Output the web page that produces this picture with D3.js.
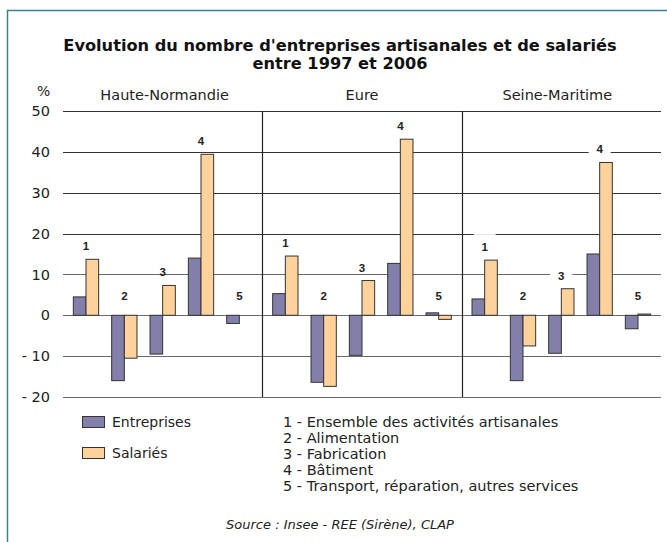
<!DOCTYPE html>
<html>
<head>
<meta charset="utf-8">
<style>
  body { margin: 0; background: #fff; }
  svg { display: block; font-family: "DejaVu Sans", Verdana, sans-serif; }
</style>
</head>
<body>
<div id="chart"></div>
<script src="https://cdnjs.cloudflare.com/ajax/libs/d3/7.8.5/d3.min.js"></script>
<script>
// données
var regions = ["Haute-Normandie", "Eure", "Seine-Maritime"];
var categories = ["1", "2", "3", "4", "5"];
var entreprises = [
  [4.5, -16.0, -9.5, 14.0, -2.0],
  [5.3, -16.4, -9.8, 12.7, 0.6],
  [4.0, -16.0, -9.3, 15.0, -3.3]
];
var salaries = [
  [13.7, -10.5, 7.3, 39.4, 0],
  [14.5, -17.4, 8.5, 43.1, -1.0],
  [13.5, -7.5, 6.5, 37.4, 0.3]
];
var yTicks = [50, 40, 30, 20, 10, 0, -10, -20];
var seriesNames = ["Entreprises", "Salariés"];
var categoryNames = [
  "1 - Ensemble des activités artisanales",
  "2 - Alimentation",
  "3 - Fabrication",
  "4 - Bâtiment",
  "5 - Transport, réparation, autres services"
];

var W = 667, H = 542;
var colE = "#8280aa", colS = "#ffd29c";
var plotLeft = 63, plotRight = 661;

var svg = d3.select("#chart").append("svg")
  .attr("width", W).attr("height", H);

// cadre
svg.append("path")
  .attr("d", "M7.5," + H + "V10.5H" + W)
  .attr("fill", "none").attr("stroke", "#3f7f96").attr("stroke-width", 1.5);

// titre
svg.append("text").attr("x", 340).attr("y", 51)
  .attr("text-anchor", "middle").attr("font-weight", "bold").attr("font-size", 16.2)
  .attr("fill", "#111")
  .text("Evolution du nombre d'entreprises artisanales et de salariés");
svg.append("text").attr("x", 340).attr("y", 69)
  .attr("text-anchor", "middle").attr("font-weight", "bold").attr("font-size", 16.2)
  .attr("fill", "#111")
  .text("entre 1997 et 2006");

var y = d3.scaleLinear().domain([-20, 50]).range([397, 111]);
var xPanel = d3.scaleBand().domain(regions).range([plotLeft, plotRight]);
var xCat = d3.scaleBand().domain(categories).range([0, xPanel.bandwidth()])
  .paddingInner(0.34).paddingOuter(0.27);
var xSer = d3.scaleBand().domain(seriesNames).range([0, xCat.bandwidth()]);

// grille
svg.append("g").selectAll("line").data(yTicks).join("line")
  .attr("x1", plotLeft).attr("x2", plotRight)
  .attr("y1", function(d) { return Math.round(y(d)) + 0.5; })
  .attr("y2", function(d) { return Math.round(y(d)) + 0.5; })
  .attr("stroke", function(d) { return d > 10 ? "#333" : "#6a6a6a"; })
  .attr("stroke-width", 1.2);

// axe y
var yAxis = d3.axisLeft(y).tickValues(yTicks).tickSize(0).tickPadding(0)
  .tickFormat(function(d) { return d < 0 ? "- " + Math.abs(d) : d; });
var gy = svg.append("g").attr("transform", "translate(50,0)").call(yAxis);
gy.select(".domain").remove();
gy.selectAll("text").attr("font-size", 14.5).attr("fill", "#222")
  .attr("font-family", "DejaVu Sans, Verdana, sans-serif");
svg.append("text").attr("x", 37).attr("y", 96).attr("font-size", 14)
  .attr("fill", "#222").text("%");

// séparateurs
svg.append("g").selectAll("line").data(regions.slice(1)).join("line")
  .attr("x1", function(d) { return Math.round(xPanel(d)) + 0.5; })
  .attr("x2", function(d) { return Math.round(xPanel(d)) + 0.5; })
  .attr("y1", y(50)).attr("y2", y(-20))
  .attr("stroke", "#222").attr("stroke-width", 1.2);

var labelMask = [false, false, true];

regions.forEach(function(r, i) {
  var g = svg.append("g").attr("transform", "translate(" + xPanel(r) + ",0)");
  g.append("text").attr("x", xPanel.bandwidth() / 2 + (i === 0 ? 2 : (i === 2 ? -4 : 0))).attr("y", 100)
    .attr("text-anchor", "middle").attr("font-size", 14.5).attr("fill", "#222")
    .text(r);

  var rows = categories.map(function(c, j) {
    return { cat: c, vals: [entreprises[i][j], salaries[i][j]] };
  });

  rows.forEach(function(row) {
    var gx = xCat(row.cat);
    row.vals.forEach(function(v, k) {
      if (v === 0) return;
      g.append("rect")
        .attr("x", gx + xSer(seriesNames[k]))
        .attr("width", xSer.bandwidth())
        .attr("y", y(Math.max(0, v)))
        .attr("height", Math.abs(y(v) - y(0)))
        .attr("fill", k === 0 ? colE : colS)
        .attr("stroke", "#333").attr("stroke-width", 1);
    });
    var top = d3.max(row.vals);
    var ly = top > 3 ? y(top) - 13 : y(0) - 19;
    var cx = gx + xCat.bandwidth() / 2;
    if (labelMask[i]) {
      g.append("rect").attr("x", cx - 11).attr("y", ly - 13).attr("width", 22)
        .attr("height", 22).attr("fill", "#fff");
    }
    g.append("text").attr("x", cx).attr("y", ly + 4)
      .attr("text-anchor", "middle").attr("font-family", "Liberation Sans, Arial, sans-serif")
      .attr("font-weight", "bold").attr("font-size", 11.5).attr("fill", "#222")
      .text(row.cat);
  });
});

// légende
var leg = svg.append("g");
seriesNames.forEach(function(s, k) {
  leg.append("rect").attr("x", 82.5).attr("y", 416.5 + k * 31)
    .attr("width", 22).attr("height", 11)
    .attr("fill", k === 0 ? colE : colS).attr("stroke", "#333");
  leg.append("text").attr("x", 112).attr("y", 427 + k * 31)
    .attr("font-size", 14).attr("fill", "#222").text(s);
});
categoryNames.forEach(function(t, j) {
  leg.append("text").attr("x", 283).attr("y", 427 + j * 16)
    .attr("font-size", 14.5).attr("fill", "#222").text(t);
});

svg.append("text").attr("x", 340).attr("y", 529)
  .attr("text-anchor", "middle").attr("font-style", "italic")
  .attr("font-size", 13).attr("fill", "#222")
  .text("Source : Insee - REE (Sirène), CLAP");
</script>
</body>
</html>
